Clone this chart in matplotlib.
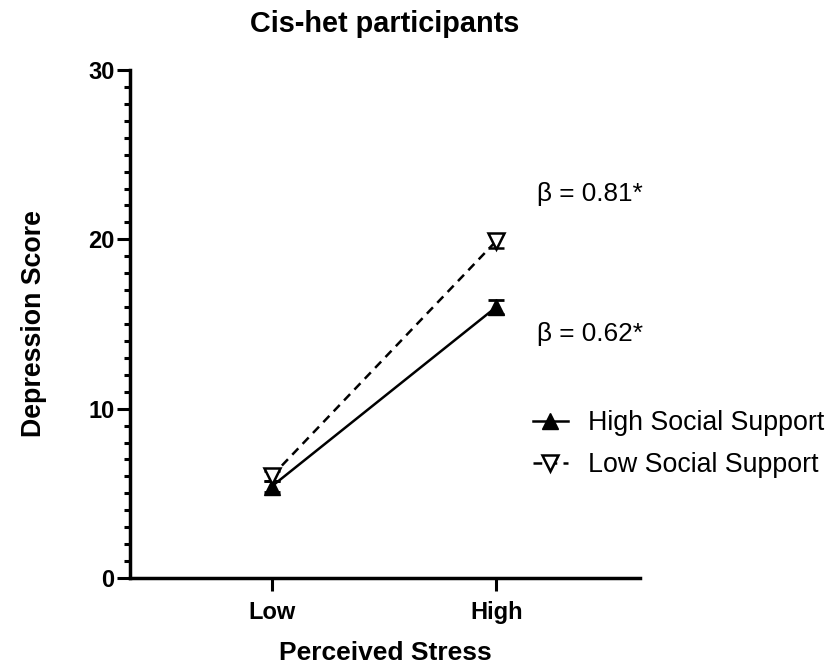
import matplotlib
matplotlib.use("Agg")
import matplotlib.pyplot as plt
from matplotlib.lines import Line2D
from matplotlib.ticker import MultipleLocator

plt.rcParams['font.family'] = ['Liberation Sans', 'DejaVu Sans']

stress_levels = ["Low", "High"]
high_support = [5.4, 16.0]
high_support_err = [0.3, 0.4]
low_support = [6.0, 19.9]
low_support_err = [0.3, 0.4]
beta_labels = ["β = 0.81*", "β = 0.62*"]
series_names = ["High Social Support", "Low Social Support"]

dash = (0, (3.5, 2.5))

fig = plt.figure(figsize=(8.32, 6.66), dpi=100)
ax = fig.add_axes([130 / 832, 88 / 666, 510 / 832, 508 / 666])

x = list(range(len(stress_levels)))

ax.errorbar(x, high_support, yerr=high_support_err, color="black", lw=1.8,
            marker="^", markersize=11.5, markerfacecolor="black",
            capsize=6, capthick=2, elinewidth=2)
ax.errorbar(x, low_support, yerr=low_support_err, color="black", lw=1.8,
            ls=dash, marker="v", markersize=11.5,
            markerfacecolor="white", markeredgewidth=1.8,
            capsize=6, capthick=2, elinewidth=2)

ax.set_xlim(-0.63, 1.64)
ax.set_ylim(0, 30)
ax.set_xticks(x)
ax.set_xticklabels(stress_levels, fontweight="bold", fontsize=17)
ax.yaxis.set_major_locator(MultipleLocator(10))
ax.yaxis.set_minor_locator(MultipleLocator(1))
for lbl in ax.get_yticklabels():
    lbl.set_fontweight("bold")
    lbl.set_fontsize(17)

ax.spines["top"].set_visible(False)
ax.spines["right"].set_visible(False)
ax.spines["left"].set_linewidth(2.5)
ax.spines["bottom"].set_linewidth(2.5)
ax.tick_params(axis="both", which="major", length=9.5, width=2.2, pad=1.5)
ax.tick_params(axis="x", which="major", pad=7)
ax.tick_params(axis="y", which="minor", length=4.5, width=2.2)

ax.set_xlabel("Perceived Stress", fontsize=19, fontweight="bold", labelpad=12)
ax.set_ylabel("Depression Score", fontsize=19.3, fontweight="bold", labelpad=30)
ax.set_title("Cis-het participants", fontsize=20.8, fontweight="bold", pad=27)

fig.text(537 / 832, 1 - 194 / 666, beta_labels[0], fontsize=18.8, va="center")
fig.text(537 / 832, 1 - 334 / 666, beta_labels[1], fontsize=18.8, va="center")

handles = [
    Line2D([], [], color="black", lw=1.8, marker="^", markersize=11.5,
           markerfacecolor="black"),
    Line2D([], [], color="black", lw=1.8, ls=dash, marker="v", markersize=11.5,
           markerfacecolor="white", markeredgewidth=1.8),
]
ax.legend(handles, series_names, loc="center left",
          bbox_to_anchor=(533 / 832, 1 - 444 / 666),
          bbox_transform=fig.transFigure, frameon=False, fontsize=19.3,
          handlelength=1.3, handletextpad=0.75, labelspacing=0.6,
          borderpad=0, borderaxespad=0)

fig.savefig("out.png", dpi=100)
